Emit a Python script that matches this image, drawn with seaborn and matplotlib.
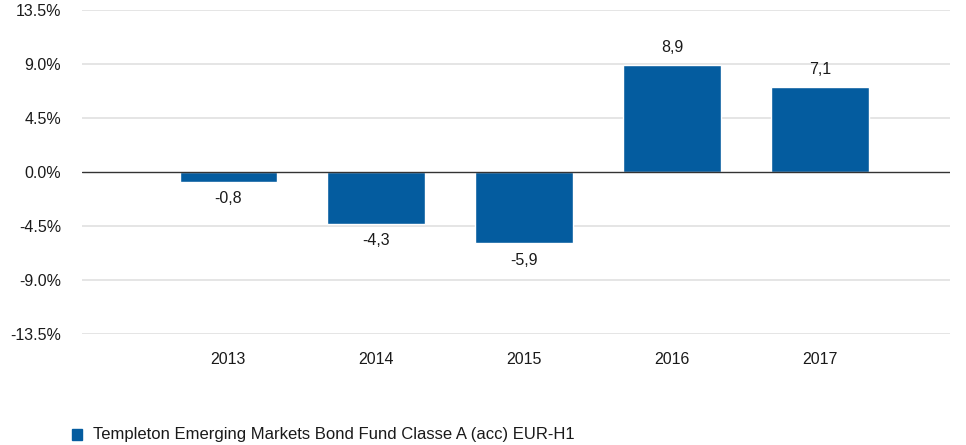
import matplotlib
matplotlib.use("Agg")
import matplotlib.pyplot as plt
import seaborn as sns
import pandas as pd

years = ["2013", "2014", "2015", "2016", "2017"]
returns = [-0.8, -4.3, -5.9, 8.9, 7.1]
value_labels = ["-0,8", "-4,3", "-5,9", "8,9", "7,1"]
yticks = [-13.5, -9.0, -4.5, 0.0, 4.5, 9.0, 13.5]
series_name = "Templeton Emerging Markets Bond Fund Classe A (acc) EUR-H1"

sns.set_theme(style="white")
plt.rcParams['font.family'] = ['Liberation Sans', 'DejaVu Sans']

color = "#045C9F"
txt = "#1a1a1a"
fs = 11.5
df = pd.DataFrame({"year": years, "ret": returns})

fig = plt.figure(figsize=(9.66, 4.45), dpi=100)
ax = fig.add_axes([82/966, 1-334/445, (950-82)/966, (334-10)/445])
sns.barplot(data=df, x="year", y="ret", color=color, width=0.66,
            saturation=1, ax=ax, zorder=3)

ax.set_xlim(-0.99, 4.88)
ax.set_ylim(-13.5, 13.5)
ax.set_yticks(yticks)
ax.set_yticklabels([f"{t:.1f}%" for t in yticks])
for t in yticks:
    if t == 0:
        ax.axhline(0, color="#333333", lw=1.0, zorder=4)
    else:
        ax.axhline(t, color="#e3e3e3", lw=1.3, zorder=0)
for s in ax.spines.values():
    s.set_visible(False)
ax.set_xlabel("")
ax.set_ylabel("")
ax.tick_params(axis="both", length=0, labelsize=fs, colors=txt)
ax.tick_params(axis="x", pad=13)
ax.tick_params(axis="y", pad=15)

for i, (v, lab) in enumerate(zip(returns, value_labels)):
    if v >= 0:
        ax.annotate(lab, (i, v), xytext=(0, 7), textcoords="offset points",
                    ha="center", va="bottom", fontsize=fs, color=txt)
    else:
        ax.annotate(lab, (i, v), xytext=(0, -7), textcoords="offset points",
                    ha="center", va="top", fontsize=fs, color=txt)

fig.patches.append(plt.Rectangle((72/966, 1-440/445), 10/966, 11/445,
                                 transform=fig.transFigure, color=color))
fig.text(93/966, 1-435/445, series_name, fontsize=12, va="center",
         ha="left", color=txt)

fig.savefig("out.png", dpi=100)
